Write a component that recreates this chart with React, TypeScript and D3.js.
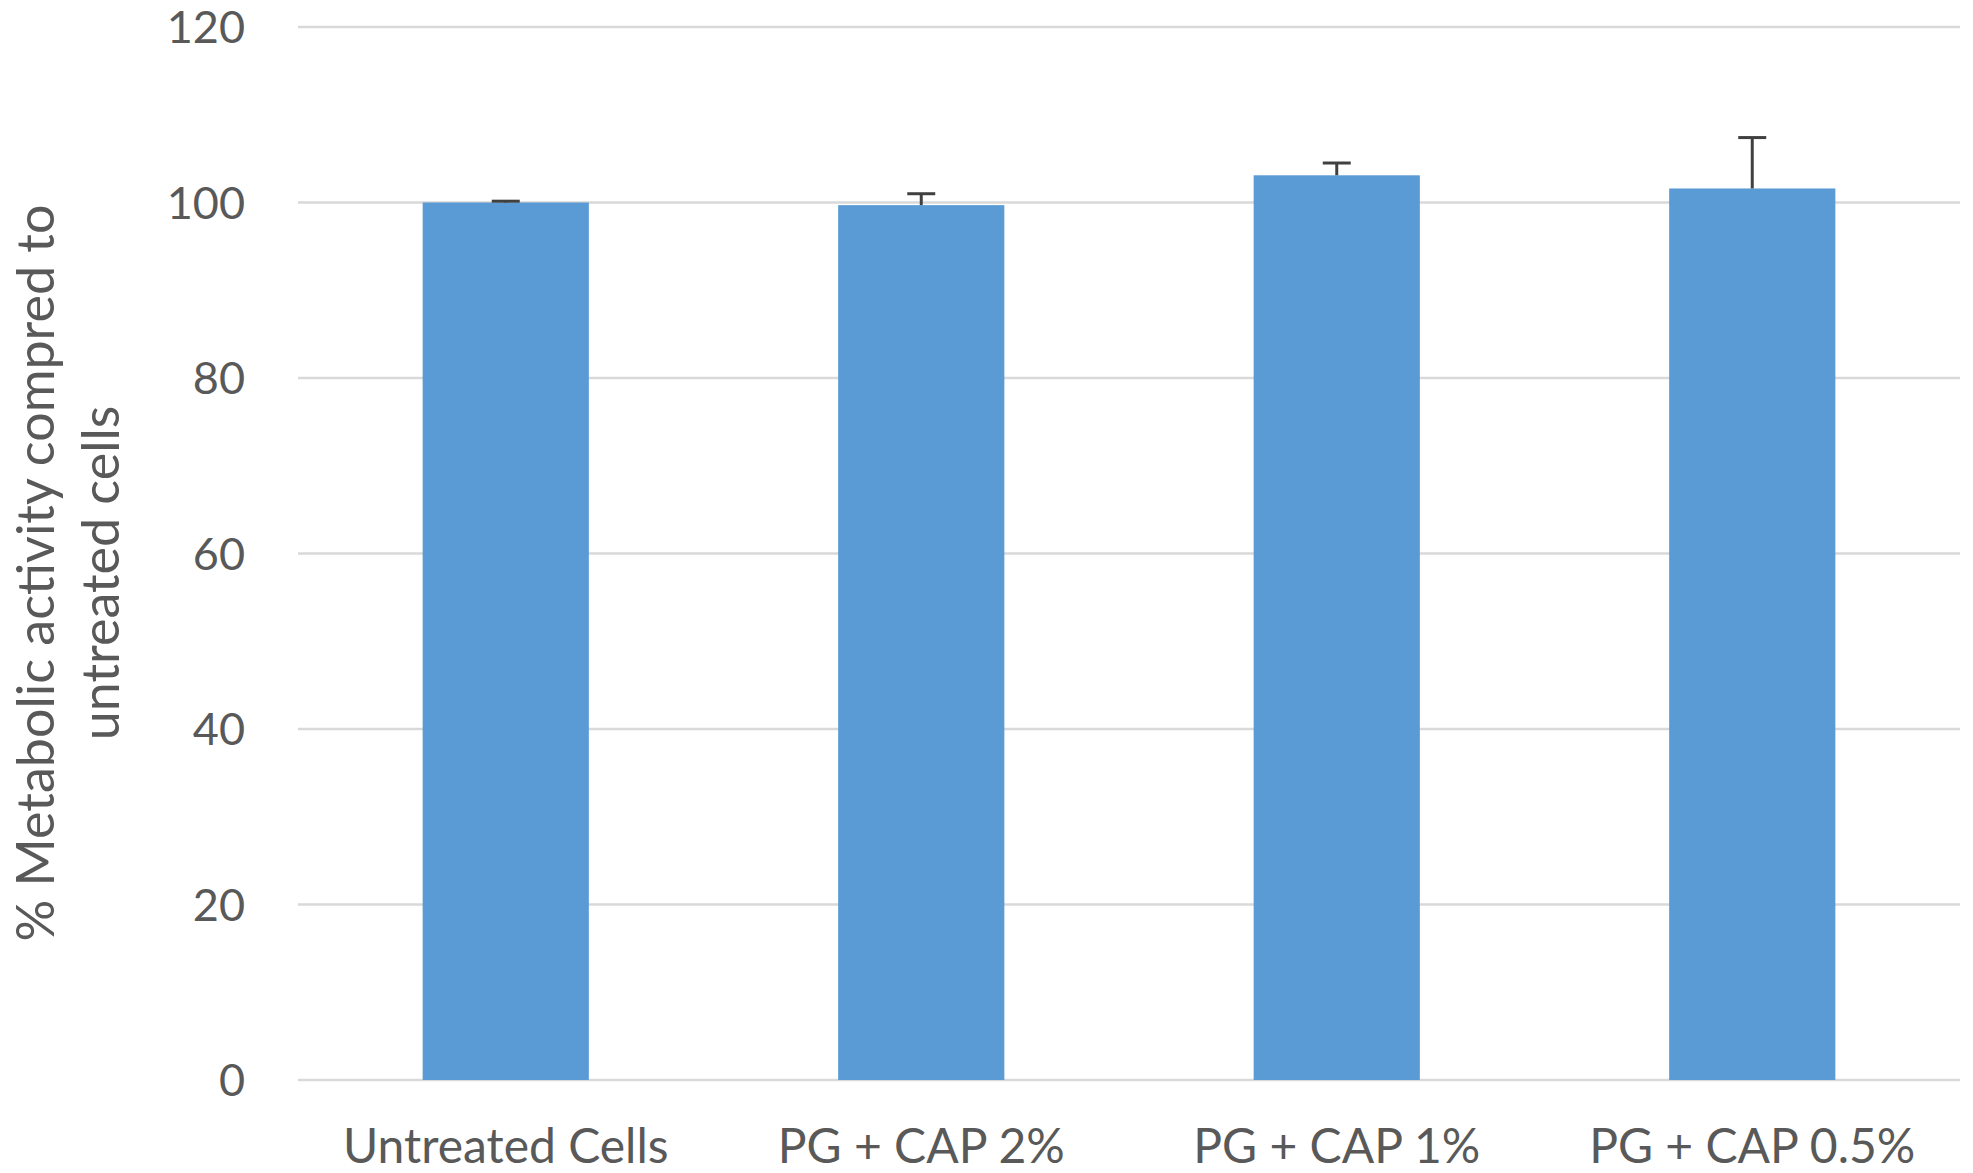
import * as d3 from 'd3';
import { useEffect } from 'react';

const categories = ['Untreated Cells', 'PG + CAP 2%', 'PG + CAP 1%', 'PG + CAP 0.5%'];
const values = [100, 99.7, 103.1, 101.6];
const errors = [0.15, 1.3, 1.4, 5.8];
const yTicks = [0, 20, 40, 60, 80, 100, 120];
const yTitle = ['% Metabolic activity compred to', 'untreated cells'];

const WIDTH = 1973;
const HEIGHT = 1173;
const FONT = 'Lato, "Open Sans", sans-serif';
const TEXT_COLOR = '#595959';

export default function App() {
  useEffect(() => {
    document.body.style.margin = '0';
  }, []);

  const x = d3.scaleBand<string>().domain(categories).range([298, 1960]).paddingInner(0.6).paddingOuter(0.3);
  const y = d3.scaleLinear().domain([0, 120]).range([1080, 27]);
  const capHalf = 14;

  return (
    <svg width={WIDTH} height={HEIGHT} style={{ display: 'block', background: '#fff' }}>
      {/* gridlines */}
      {yTicks.map((t) => (
        <line key={t} x1={298} x2={1960} y1={y(t)} y2={y(t)} stroke="#d9d9d9" strokeWidth={2.5} />
      ))}

      {/* y tick labels */}
      {yTicks.map((t) => (
        <text
          key={`l${t}`}
          x={245}
          y={y(t)}
          dy="0.36em"
          textAnchor="end"
          fontFamily={FONT}
          fontSize={45}
          fill={TEXT_COLOR}
        >
          {t}
        </text>
      ))}

      {/* bars */}
      {categories.map((c, i) => (
        <rect key={c} x={x(c)} y={y(values[i])} width={x.bandwidth()} height={y(0) - y(values[i])} fill="#5b9bd5" />
      ))}

      {/* error bars (upper only) */}
      {categories.map((c, i) => {
        const cx = (x(c) ?? 0) + x.bandwidth() / 2;
        const top = y(values[i] + errors[i]);
        return (
          <g key={`e${c}`} stroke="#404040" strokeWidth={3}>
            <line x1={cx} x2={cx} y1={y(values[i])} y2={top} />
            <line x1={cx - capHalf} x2={cx + capHalf} y1={top} y2={top} />
          </g>
        );
      })}

      {/* x labels */}
      {categories.map((c) => (
        <text
          key={`x${c}`}
          x={(x(c) ?? 0) + x.bandwidth() / 2}
          y={1163}
          textAnchor="middle"
          fontFamily={FONT}
          fontSize={48}
          fill={TEXT_COLOR}
        >
          {c}
        </text>
      ))}

      {/* y axis title */}
      {yTitle.map((line, i) => (
        <text
          key={line}
          transform={`translate(${35 + i * 65},573) rotate(-90)`}
          dy="0.36em"
          textAnchor="middle"
          fontFamily={FONT}
          fontSize={52}
          fill={TEXT_COLOR}
        >
          {line}
        </text>
      ))}
    </svg>
  );
}
